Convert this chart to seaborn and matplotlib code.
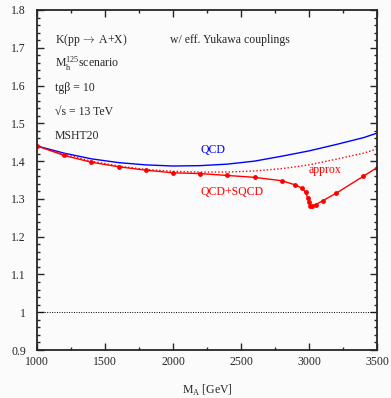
import matplotlib.pyplot as plt
import matplotlib.ticker as mticker
import pandas as pd
import seaborn as sns

sns.set_theme(style='ticks')
plt.rcParams['font.family'] = ['Liberation Serif', 'DejaVu Serif']
plt.rcParams['mathtext.fontset'] = 'custom'
plt.rcParams['mathtext.rm'] = 'Liberation Serif'

bg = '#fbfbfb'

# QCD+SQCD (red, with points)
ma_sqcd = [1000, 1200, 1400, 1600, 1800, 2000, 2200, 2400, 2600, 2800, 2900,
           2950, 2975, 2990, 3000, 3010, 3025, 3050, 3100, 3200, 3400, 3500]
k_sqcd = [1.440, 1.415, 1.397, 1.385, 1.376, 1.369, 1.367, 1.362, 1.357, 1.348,
          1.337, 1.328, 1.318, 1.303, 1.292, 1.282, 1.282, 1.285, 1.295, 1.315,
          1.360, 1.383]

# QCD (blue)
ma_qcd = [1000, 1200, 1400, 1600, 1800, 2000, 2200, 2400, 2600, 2800, 3000,
          3200, 3400, 3500]
k_qcd = [1.440, 1.421, 1.406, 1.396, 1.390, 1.387, 1.388, 1.392, 1.400, 1.413,
         1.427, 1.444, 1.462, 1.474]

# approx (red dotted)
k_approx = [1.440, 1.418, 1.400, 1.387, 1.378, 1.373, 1.371, 1.371, 1.374,
            1.380, 1.390, 1.405, 1.421, 1.432]

fig = plt.figure(figsize=(3.91, 3.98), dpi=100, facecolor=bg)
ax = fig.add_axes([0.0946, 0.1206, 0.8696, 0.8543])
ax.set_facecolor(bg)

sns.lineplot(x=ma_qcd, y=k_qcd, ax=ax, color='#0000ff', lw=1.0)
sns.lineplot(x=ma_qcd, y=k_approx, ax=ax, color='#ff0000', lw=1.0,
             linestyle=(0, (1, 1.5)))
sns.lineplot(x=ma_sqcd, y=k_sqcd, ax=ax, color='#ff0000', lw=1.0,
             marker='o', markersize=3.5, markeredgewidth=0)
ax.axhline(1.0, color='black', lw=0.7, linestyle=(0, (1, 1.5)))

ax.set_xlim(1000, 3500)
ax.set_ylim(0.9, 1.8)
ax.xaxis.set_major_locator(mticker.MultipleLocator(500))
ax.xaxis.set_minor_locator(mticker.MultipleLocator(250))
ax.yaxis.set_major_locator(mticker.MultipleLocator(0.1))
ax.yaxis.set_minor_locator(mticker.MultipleLocator(0.02))
ax.yaxis.set_major_formatter(mticker.FuncFormatter(lambda v, p: f'{v:g}'))
ax.tick_params(which='both', direction='in', top=True, right=True,
               labelsize=8.5, width=1.0)
ax.tick_params(which='major', length=5)
ax.tick_params(which='minor', length=2.5)
ax.tick_params(axis='y', which='major', pad=8)
ax.tick_params(axis='x', which='major', pad=4)
for s in ax.spines.values():
    s.set_linewidth(1.3)

ax.set_xlabel(r'M$_\mathrm{A}$ [GeV]', fontsize=8.5, va='center')
ax.xaxis.set_label_coords(0.5, -0.118)

fs = 8.5
ax.text(1132, 1.720, r'K(pp$\,\rightarrow\,$A+X)', fontsize=fs, va='center',
        math_fontfamily='cm')
ax.text(1978, 1.720, 'w/ eff. Yukawa couplings', fontsize=fs, va='center')
ax.text(1132, 1.657, r'M$_\mathrm{h}^\mathrm{125}$scenario', fontsize=fs, va='center')
ax.text(1132, 1.593, 'tg\u03b2 = 10', fontsize=fs, va='center')
ax.text(1132, 1.531, '\u221as = 13 TeV', fontsize=fs, va='center')
ax.text(1132, 1.466, 'MSHT20', fontsize=fs, va='center')
ax.text(2292, 1.429, 'QCD', fontsize=fs, color='#0000ff', ha='center', va='center')
ax.text(3118, 1.376, 'approx', fontsize=fs, color='#ff0000', ha='center', va='center')
ax.text(2431, 1.319, 'QCD+SQCD', fontsize=fs, color='#ff0000', ha='center', va='center')

fig.savefig('out.png', dpi=100, facecolor=bg)
